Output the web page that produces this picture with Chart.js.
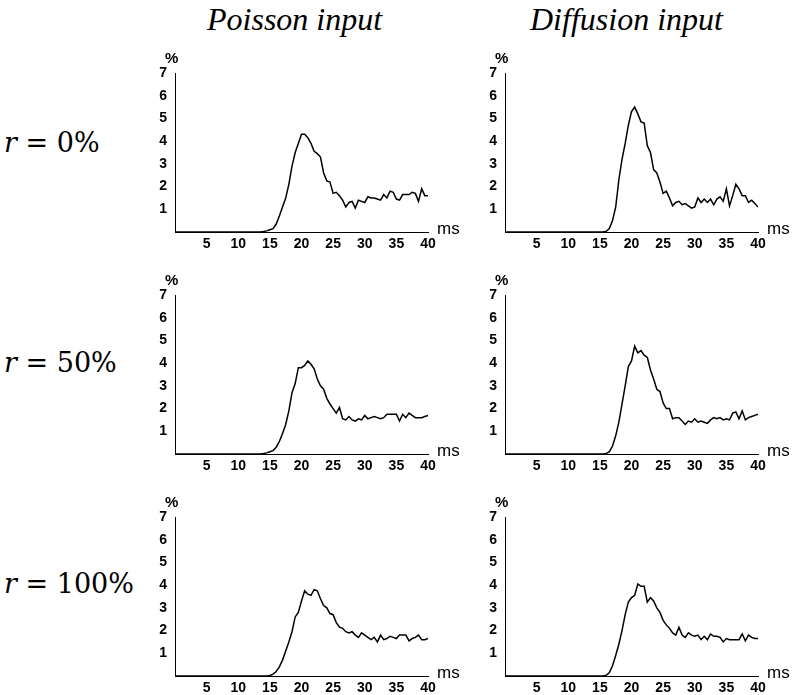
<!DOCTYPE html>
<html lang="en">
<head>
<meta charset="UTF-8">
<title>latency histograms</title>
<script src="https://cdn.jsdelivr.net/npm/chart.js"></script>
<style>
  body { margin: 0; background: #fff; }
  #page { position: relative; width: 794px; height: 695px; overflow: hidden; }
  .title { position: absolute; font-family: "Liberation Serif", "DejaVu Serif", serif; font-style: italic; font-size: 32px; line-height: 1; color: #000; white-space: nowrap; }
  .rlab { position: absolute; font-family: "DejaVu Serif", "Liberation Serif", serif; font-size: 27px; color: #000; white-space: nowrap; }
  .rlab i { font-style: italic; }
  canvas { position: absolute; }
</style>
</head>
<body>
<div id="page">
  <div class="title" style="left:207px; top:3px;">Poisson input</div>
  <div class="title" style="left:530px; top:3px;">Diffusion input</div>
  <div class="rlab" style="left:4px; top:127px;"><i>r</i> = 0%</div>
  <div class="rlab" style="left:4px; top:347px;"><i>r</i> = 50%</div>
  <div class="rlab" style="left:4px; top:568px;"><i>r</i> = 100%</div>
</div>

<script>
// time axis (ms), one value every 0.5 ms
const times = [0,0.5,1,1.5,2,2.5,3,3.5,4,4.5,5,5.5,6,6.5,7,7.5,8,8.5,9,9.5,
  10,10.5,11,11.5,12,12.5,13,13.5,14,14.5,15,15.5,16,16.5,17,17.5,18,18.5,19,19.5,
  20,20.5,21,21.5,22,22.5,23,23.5,24,24.5,25,25.5,26,26.5,27,27.5,28,28.5,29,29.5,
  30,30.5,31,31.5,32,32.5,33,33.5,34,34.5,35,35.5,36,36.5,37,37.5,38,38.5,39,39.5,40]

const xTicks = [5, 10, 15, 20, 25, 30, 35, 40]
const yTicks = [1, 2, 3, 4, 5, 6, 7]

const poisson0 = [0,0,0,0,0,0,0,0,0,0,0,0,0,0,0,0,0,0,0,0,0,0,0,0,0,0,0,0,
  0.02,0.05,0.1,0.15,0.35,0.7,1.1,1.5,2.1,2.9,3.5,3.9,
  4.3,4.3,4.15,3.9,3.55,3.45,3.3,2.6,2.25,2.2,1.7,1.75,1.6,1.4,1.1,1.3,1.35,1.05,1.4,1.35,
  1.3,1.55,1.5,1.5,1.45,1.4,1.65,1.5,1.8,1.75,1.45,1.4,1.65,1.65,1.65,1.75,1.7,1.35,1.9,1.6,1.6]

const diffusion0 = [0,0,0,0,0,0,0,0,0,0,0,0,0,0,0,0,0,0,0,0,0,0,0,0,0,0,0,0,
  0,0,0,0,0.03,0.15,0.5,1.1,2.3,3.2,3.9,4.7,
  5.3,5.5,5.2,4.85,4.8,3.8,3.5,2.75,2.6,2.2,1.7,1.8,1.5,1.15,1.3,1.35,1.2,1.25,1.15,1.05,
  1.1,1.5,1.3,1.45,1.3,1.45,1.2,1.45,1.55,1.35,1.9,1.15,1.6,2.1,1.9,1.6,1.6,1.3,1.4,1.25,1.1]

const poisson50 = [0,0,0,0,0,0,0,0,0,0,0,0,0,0,0,0,0,0,0,0,0,0,0,0,0,0,0,0,
  0.02,0.05,0.1,0.15,0.3,0.55,0.9,1.3,1.9,2.7,3.1,3.8,
  3.8,3.9,4.1,3.95,3.75,3.3,3.0,2.85,2.45,2.2,2.0,1.8,2.05,1.55,1.5,1.65,1.5,1.45,1.55,1.5,
  1.7,1.55,1.6,1.65,1.6,1.55,1.6,1.75,1.75,1.75,1.75,1.45,1.75,1.6,1.8,1.7,1.6,1.6,1.6,1.65,1.7]

const diffusion50 = [0,0,0,0,0,0,0,0,0,0,0,0,0,0,0,0,0,0,0,0,0,0,0,0,0,0,0,0,
  0,0,0,0,0.02,0.1,0.35,0.8,1.4,2.2,3.0,3.85,
  4.1,4.75,4.45,4.55,4.35,4.25,3.7,3.3,2.85,2.75,2.25,2.0,2.0,1.55,1.6,1.6,1.45,1.3,1.45,1.4,
  1.55,1.4,1.45,1.4,1.35,1.5,1.6,1.55,1.6,1.5,1.55,1.5,1.8,1.85,1.55,1.9,1.5,1.6,1.65,1.7,1.75]

const poisson100 = [0,0,0,0,0,0,0,0,0,0,0,0,0,0,0,0,0,0,0,0,0,0,0,0,0,0,0,0,
  0,0,0.02,0.08,0.2,0.4,0.7,1.1,1.5,1.95,2.6,2.8,
  3.3,3.75,3.6,3.55,3.8,3.75,3.4,3.1,3.0,2.75,2.7,2.35,2.15,2.1,1.95,1.9,1.95,1.8,1.7,1.9,
  1.8,1.7,1.6,1.7,1.5,1.8,1.6,1.65,1.75,1.7,1.65,1.8,1.8,1.8,1.55,1.65,1.7,1.8,1.6,1.6,1.65]

const diffusion100 = [0,0,0,0,0,0,0,0,0,0,0,0,0,0,0,0,0,0,0,0,0,0,0,0,0,0,0,0,
  0,0,0,0,0.03,0.15,0.45,0.9,1.4,2.0,2.7,3.25,
  3.45,3.55,4.05,3.95,3.95,3.25,3.45,3.3,3.0,2.8,2.45,2.25,2.1,1.9,1.8,2.15,1.8,1.7,1.9,1.8,
  1.75,1.8,1.6,1.75,1.6,1.85,1.75,1.75,1.7,1.5,1.65,1.6,1.6,1.6,1.6,1.85,1.55,1.8,1.7,1.65,1.65]

// panel placement: left/top of the plot area
const panels = [
  { data: poisson0,     left: 175, top: 73 },
  { data: diffusion0,   left: 505, top: 73 },
  { data: poisson50,    left: 175, top: 295 },
  { data: diffusion50,  left: 505, top: 295 },
  { data: poisson100,   left: 175, top: 517 },
  { data: diffusion100, left: 505, top: 517 }
]

const AREA_W = 253, AREA_H = 159
const PAD_L = 40, PAD_T = 25, PAD_R = 40, PAD_B = 25
const tickFont = { family: '"Liberation Sans", Arial, sans-serif', size: 14, weight: 'bold' }

// draws the little "%" and "ms" unit labels
const unitLabels = {
  id: 'unitLabels',
  afterDraw(chart) {
    const { ctx, chartArea } = chart
    ctx.save()
    ctx.fillStyle = '#000'
    ctx.textBaseline = 'alphabetic'
    ctx.textAlign = 'left'
    ctx.font = '600 15px "Liberation Sans", Arial, sans-serif'
    ctx.fillText('%', chartArea.left - 10, chartArea.top - 10)
    ctx.font = '500 17px "Liberation Sans", Arial, sans-serif'
    ctx.fillText('ms', chartArea.right + 9, chartArea.bottom + 2)
    ctx.restore()
  }
}

const page = document.getElementById('page')

panels.forEach(p => {
  const cv = document.createElement('canvas')
  const w = PAD_L + AREA_W + PAD_R, h = PAD_T + AREA_H + PAD_B
  cv.width = w; cv.height = h
  cv.style.width = w + 'px'; cv.style.height = h + 'px'
  cv.style.left = (p.left - PAD_L) + 'px'
  cv.style.top = (p.top - PAD_T) + 'px'
  page.appendChild(cv)

  new Chart(cv, {
    type: 'line',
    data: {
      datasets: [{
        data: times.map((t, i) => ({ x: t, y: p.data[i] })),
        borderColor: '#000',
        borderWidth: 1.5,
        pointRadius: 0,
        tension: 0,
        fill: false
      }]
    },
    options: {
      responsive: false,
      animation: false,
      layout: { padding: { left: 0, top: PAD_T, right: PAD_R, bottom: 0 } },
      plugins: { legend: { display: false }, tooltip: { enabled: false } },
      scales: {
        x: {
          type: 'linear', min: 0, max: 40,
          afterBuildTicks: s => { s.ticks = xTicks.map(v => ({ value: v })) },
          afterFit: s => { s.height = PAD_B },
          grid: { display: false, drawTicks: false },
          border: { display: true, color: '#000', width: 1 },
          ticks: { color: '#000', font: tickFont, padding: 4, maxRotation: 0 }
        },
        y: {
          type: 'linear', min: 0, max: 7,
          afterBuildTicks: s => { s.ticks = yTicks.map(v => ({ value: v })) },
          afterFit: s => { s.width = PAD_L },
          grid: { display: false, drawTicks: false },
          border: { display: true, color: '#000', width: 1 },
          ticks: { color: '#000', font: tickFont, padding: 8 }
        }
      }
    },
    plugins: [unitLabels]
  })
})
</script>
</body>
</html>
